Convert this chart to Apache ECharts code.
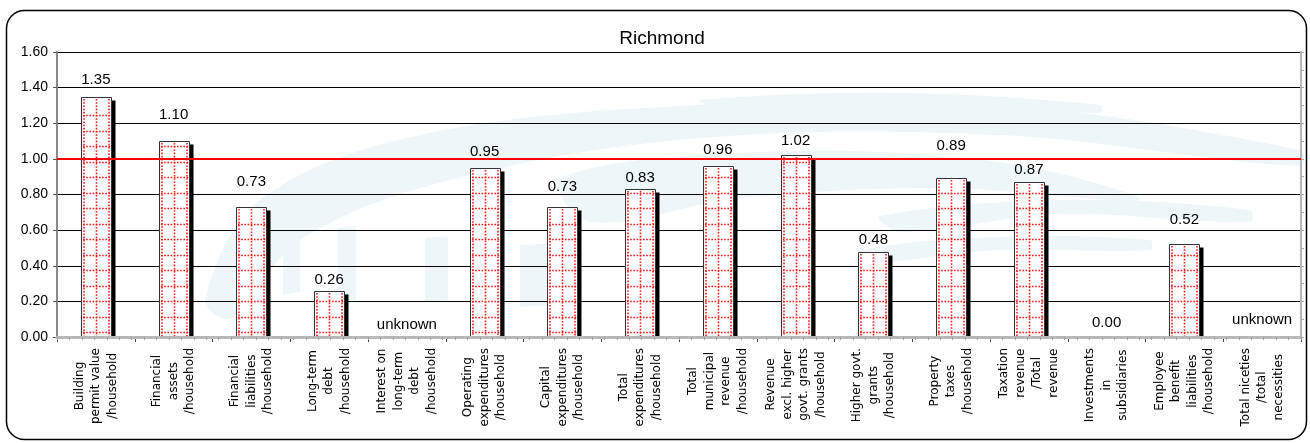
<!DOCTYPE html>
<html>
<head>
<meta charset="utf-8">
<script src="https://cdn.jsdelivr.net/npm/echarts@6/dist/echarts.min.js"></script>
<style>
  html, body { margin: 0; padding: 0; background: #fff; }
  #chart { width: 1310px; height: 443px; }
</style>
</head>
<body>
<div id="chart"></div>
<script>
// Municipal indicator ratios for Richmond
const chartTitle = 'Richmond';

const categories = [
  'Building\npermit value\n/household',
  'Financial\nassets\n/household',
  'Financial\nliabilities\n/household',
  'Long-term\ndebt\n/household',
  'Interest on\nlong-term\ndebt\n/household',
  'Operating\nexpenditures\n/household',
  'Capital\nexpenditures\n/household',
  'Total\nexpenditures\n/household',
  'Total\nmunicipal\nrevenue\n/household',
  'Revenue\nexcl. higher\ngovt. grants\n/household',
  'Higher govt.\ngrants\n/household',
  'Property\ntaxes\n/household',
  'Taxation\nrevenue\n/Total\nrevenue',
  'Investments\nin\nsubsidiaries',
  'Employee\nbenefit\nliabilities\n/household',
  'Total niceties\n/total\nnecessities'
];

// null = value not available ("unknown")
const values = [1.35, 1.10, 0.73, 0.26, null, 0.95, 0.73, 0.83, 0.96, 1.02, 0.48, 0.89, 0.87, 0.00, 0.52, null];

const referenceLevel = [1.00];

const yMin = 0, yMax = 1.6, yStep = 0.2;

// distance (px) from the top of each bar to the centre of its value label
const labelGap = [18, 27, 26, 12, 13, 17, 21, 12, 17, 15, 13, 33, 13, 15, 25, 18];

const valueLabels = values.map(v => v === null ? 'unknown' : v.toFixed(2));
const seriesData = values.map((v, i) => [i, v === null ? 0 : v]);

const chart = echarts.init(document.getElementById('chart'), null, { renderer: 'canvas' });

// Each bar: white box with a red dotted grid fill and a hard black shadow on the right
function renderBar(params, api) {
  const idx = api.value(0);
  const val = api.value(1);
  const top = api.coord([idx, val]);
  const base = api.coord([idx, 0]);
  const bw = Math.round(api.size([1, 0])[0] * 0.39);
  const cx = top[0];
  const x = Math.round(cx - bw / 2) + 0.5;
  const yTop = Math.round(top[1]) + 0.5;
  const yBase = Math.round(base[1]);
  const h = yBase - yTop;
  const children = [];
  if (h > 1) {
    children.push({
      type: 'rect',
      shape: { x: x + 4, y: yTop + 3, width: bw, height: h - 3 },
      style: { fill: '#000' }
    });
    children.push({
      type: 'rect',
      shape: { x: x, y: yTop, width: bw, height: h },
      style: { fill: '#fff', stroke: '#333', lineWidth: 1 }
    });
    const dot = { stroke: '#ff1a1a', lineWidth: 1.6, lineDash: [1.6, 1.6] };
    [x + 2.5, Math.round(cx) + 0.5, x + bw - 2.5].forEach(lx => {
      children.push({
        type: 'line',
        shape: { x1: lx, y1: yTop + 1.5, x2: lx, y2: yBase },
        style: Object.assign({}, dot)
      });
    });
    for (let ly = yBase - 5; ly > yTop + 2; ly -= 15.5) {
      children.push({
        type: 'line',
        shape: { x1: x + 1.5, y1: Math.round(ly) + 0.5, x2: x + bw - 1, y2: Math.round(ly) + 0.5 },
        style: Object.assign({}, dot)
      });
    }
  }
  children.push({
    type: 'text',
    style: {
      text: valueLabels[params.dataIndex],
      x: cx,
      y: yTop - labelGap[params.dataIndex],
      align: 'center',
      verticalAlign: 'middle',
      fontSize: 15,
      fontFamily: '"Liberation Sans", Arial, sans-serif',
      fill: '#000'
    }
  });
  return { type: 'group', children: children };
}

const wm = '#eef6f8';

function emblem(points) {
  return { type: 'polygon', z: -20, silent: true, shape: { points: points, smooth: 0.35 }, style: { fill: wm } };
}
function slab(points) {
  return { type: 'polygon', z: -20, silent: true, shape: { points: points }, style: { fill: wm } };
}

const option = {
  backgroundColor: '#fff',
  animation: false,
  title: {
    text: chartTitle,
    left: 657,
    top: 24,
    textAlign: 'center',
    textStyle: {
      fontFamily: '"Liberation Sans", Arial, sans-serif',
      fontSize: 19,
      fontWeight: 'normal',
      color: '#000'
    }
  },
  graphic: [
    // faint background emblem
    emblem([[205, 300], [260, 200], [420, 135], [700, 105], [1000, 105], [1300, 150], [1300, 166], [1000, 135], [700, 138], [450, 180], [300, 240], [232, 318]]),
    emblem([[560, 178], [760, 152], [1000, 162], [1140, 200], [940, 188], [740, 198], [590, 222]]),
    emblem([[880, 216], [1060, 200], [1250, 210], [1250, 222], [1060, 214], [900, 232]]),
    emblem([[860, 250], [1000, 237], [1150, 240], [1150, 250], [1000, 250], [870, 262]]),
    emblem([[700, 100], [900, 93], [1100, 105], [1100, 113], [900, 103], [720, 108]]),
    slab([[283, 215], [300, 212], [300, 292], [283, 295]]),
    slab([[338, 228], [356, 226], [356, 300], [338, 302]]),
    slab([[425, 238], [448, 236], [448, 300], [425, 302]]),
    slab([[470, 240], [500, 238], [500, 310], [470, 312]]),
    slab([[520, 245], [560, 243], [560, 305], [520, 307]]),
    // rounded frame around the whole chart
    {
      type: 'rect', z: 100, silent: true,
      shape: { x: 6.5, y: 10.5, width: 1300, height: 429, r: 18 },
      style: { fill: 'none', stroke: '#000', lineWidth: 1.5 }
    }
  ],
  grid: { left: 57, right: 9, top: 52, bottom: 106, containLabel: false },
  xAxis: [
    {
      type: 'category',
      data: categories,
      boundaryGap: true,
      axisLine: { show: true, lineStyle: { color: '#8a8a8a', width: 2 } },
      axisTick: { show: true, alignWithLabel: false, length: 5, lineStyle: { color: '#444', width: 1 } },
      axisLabel: {
        interval: 0,
        rotate: 90,
        margin: 11,
        color: '#000',
        formatter: function (v) {
          return v.split('\n').map(s => '{c|' + s + '}').join('\n');
        },
        rich: {
          c: {
            align: 'center',
            fontFamily: '"DejaVu Sans", Verdana, sans-serif',
            fontSize: 12,
            lineHeight: 16.5,
            color: '#000'
          }
        }
      },
      splitLine: { show: false },
      z: 5
    },
    {
      type: 'value',
      position: 'top',
      min: 0,
      max: 100,
      interval: 1,
      axisLine: { show: true, lineStyle: { color: '#b8b8b8', width: 3 } },
      axisTick: { show: true, inside: true, length: 3, lineStyle: { color: '#a0a0a0', width: 1 } },
      axisLabel: { show: false },
      splitLine: { show: false },
      z: 6
    }
  ],
  yAxis: [
    {
      type: 'value',
      min: yMin,
      max: yMax,
      interval: yStep,
      axisLine: { show: true, lineStyle: { color: '#8a8a8a', width: 2 } },
      axisTick: { show: true, length: 4, lineStyle: { color: '#555' } },
      axisLabel: {
        margin: 9,
        color: '#000',
        fontSize: 14,
        fontFamily: '"Liberation Sans", Arial, sans-serif',
        formatter: v => v.toFixed(2)
      },
      splitLine: { show: true, lineStyle: { color: '#000', width: 1 } }
    },
    {
      type: 'value',
      position: 'right',
      min: yMin,
      max: yMax,
      interval: 0.1,
      axisLine: { show: true, lineStyle: { color: '#b8b8b8', width: 2 } },
      axisTick: { show: true, length: 3, lineStyle: { color: '#a8a8a8' } },
      axisLabel: { show: false },
      splitLine: { show: false }
    }
  ],
  series: [
    {
      type: 'custom',
      name: chartTitle,
      xAxisIndex: 0,
      yAxisIndex: 0,
      renderItem: renderBar,
      encode: { x: 0, y: 1 },
      data: seriesData,
      z: 3,
      markLine: {
        silent: true,
        symbol: 'none',
        label: { show: false },
        lineStyle: { color: '#ff0000', width: 2, type: 'solid' },
        data: referenceLevel.map(v => ({ yAxis: v }))
      }
    }
  ]
};

chart.setOption(option);
</script>
</body>
</html>
